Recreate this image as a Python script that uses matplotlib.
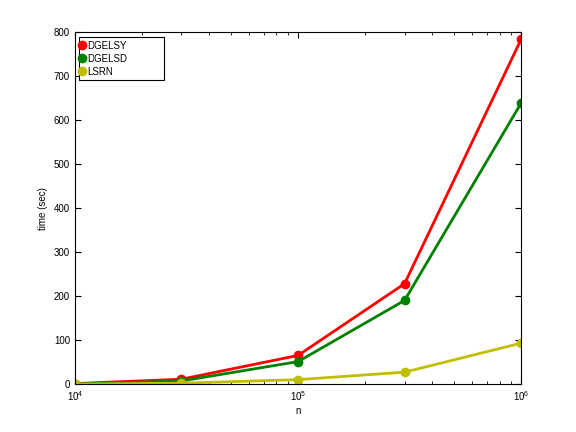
import matplotlib
matplotlib.use("Agg")
import matplotlib.pyplot as plt

n = [1e4, 3e4, 1e5, 3e5, 1e6]
dgelsy = [2, 12, 66, 229, 785]
dgelsd = [1.5, 8, 52, 191, 640]
lsrn = [1, 3, 11, 28, 94]

series = [
    ("DGELSY", dgelsy, "#ff0000"),
    ("DGELSD", dgelsd, "#008000"),
    ("LSRN", lsrn, "#bfbf00"),
]

plt.rcParams["font.family"] = ["Liberation Sans", "DejaVu Sans"]
plt.rcParams["font.size"] = 7

fig = plt.figure(figsize=(5.76, 4.32), dpi=100)
ax = fig.add_axes([0.13, 0.11, 0.775, 0.815])
for label, values, color in series:
    ax.plot(n, values, "-o", color=color, lw=2, ms=6, mfc=color, mec=color, label=label)

ax.set_xscale("log")
ax.set_xlim(1e4, 1e6)
ax.set_ylim(0, 800)
ax.set_yticks(range(0, 801, 100))
ax.set_xlabel("n", labelpad=2)
ax.set_ylabel("time (sec)")
ax.tick_params(which="both", direction="in", top=True, right=True)
ax.tick_params(which="major", length=4)
ax.tick_params(which="minor", length=2)

# matlab-style legend box: wide, markers only
leg = ax.legend(loc="upper left", bbox_to_anchor=(0.009, 0, 0.19, 0.986),
                mode="expand", borderaxespad=0, handlelength=0,
                handletextpad=0.5, borderpad=0.35, labelspacing=0.3,
                fancybox=False, edgecolor="black", framealpha=1)
leg.get_frame().set_linewidth(0.8)

fig.savefig("out.png", dpi=100)
